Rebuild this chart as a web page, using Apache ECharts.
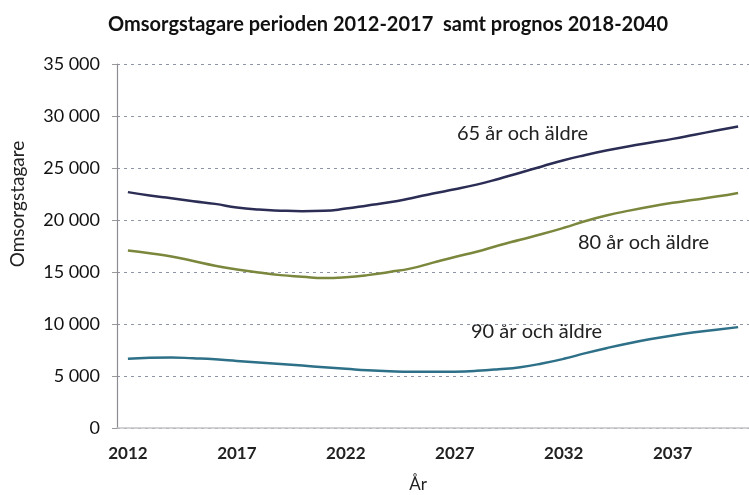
<!DOCTYPE html>
<html>
<head>
<meta charset="utf-8">
<script src="https://cdn.jsdelivr.net/npm/echarts@6/dist/echarts.min.js"></script>
<style>
    html, body {margin: 0; padding: 0; background: #fff;}
    #chart {width: 749px; height: 495px;}
</style>
</head>
<body>
<div id="chart"></div>
<script>
// År 2012-2040
let years = ['2012', '2013', '2014', '2015', '2016', '2017', '2018', '2019', '2020', '2021',
    '2022', '2023', '2024', '2025', '2026', '2027', '2028', '2029', '2030', '2031',
    '2032', '2033', '2034', '2035', '2036', '2037', '2038', '2039', '2040'];

let age65 = [22680, 22350, 22100, 21800, 21550, 21200, 21000, 20900, 20850, 20880,
    21100, 21400, 21700, 22100, 22550, 22950, 23400, 23950, 24550, 25150,
    25750, 26250, 26700, 27100, 27450, 27800, 28200, 28600, 29000];
let age80 = [17060, 16800, 16500, 16050, 15600, 15250, 14950, 14700, 14550, 14420,
    14500, 14700, 15000, 15350, 15900, 16450, 16950, 17550, 18100, 18650,
    19250, 19900, 20450, 20900, 21300, 21650, 21950, 22250, 22600];
let age90 = [6650, 6750, 6780, 6700, 6600, 6450, 6300, 6150, 6000, 5850,
    5700, 5550, 5450, 5400, 5400, 5420, 5500, 5650, 5850, 6200,
    6650, 7200, 7700, 8150, 8550, 8900, 9200, 9450, 9700];

let seriesNames = ['65 år och äldre', '80 år och äldre', '90 år och äldre'];
let colors = ['#2b2d55', '#7a873c', '#2d7088'];

let font = 'Lato, "Open Sans", sans-serif';

let chart = echarts.init(document.getElementById('chart'), null, {renderer: 'canvas'});

function line(name, data, color) {
    return {
        name: name, type: 'line', data: data, smooth: true,
        symbol: 'none', lineStyle: {color: color, width: 2.5}
    };
}

chart.setOption({
    animation: false,
    title: {
        text: 'Omsorgstagare perioden 2012-2017  samt prognos 2018-2040',
        left: 383, top: 10, textAlign: 'center',
        textStyle: {fontFamily: font, fontSize: 20, fontWeight: 'bold', color: '#111'}
    },
    grid: {left: 117, top: 64, right: -3, bottom: 67},
    xAxis: {
        type: 'category', data: years, boundaryGap: true,
        axisLine: {lineStyle: {color: '#c4c4c8', width: 1.5}},
        axisTick: {interval: 4, length: 4, lineStyle: {color: '#999'}},
        axisLabel: {
            interval: 4, margin: 17,
            fontFamily: font, fontSize: 17, fontWeight: 'bold', color: '#222'
        },
        splitLine: {show: false}
    },
    yAxis: {
        type: 'value', min: 0, max: 35000, interval: 5000,
        axisLine: {show: true, lineStyle: {color: '#8c8c92', width: 1.2}},
        axisTick: {show: true, length: 5, lineStyle: {color: '#999'}},
        axisLabel: {
            margin: 17, fontFamily: font, fontSize: 18, color: '#111',
            formatter: function (v) {
                return v >= 1000 ? Math.floor(v / 1000) + ' ' + String(v % 1000).padStart(3, '0') : String(v);
            }
        },
        splitLine: {lineStyle: {color: '#8e93a6', type: [3, 4], width: 1.2}}
    },
    series: [
        line(seriesNames[0], age65, colors[0]),
        line(seriesNames[1], age80, colors[1]),
        line(seriesNames[2], age90, colors[2])
    ],
    graphic: [
        {type: 'text', left: 457, top: 124, style: {text: seriesNames[0], font: '20px ' + font, fill: '#222'}},
        {type: 'text', left: 578, top: 233, style: {text: seriesNames[1], font: '20px ' + font, fill: '#222'}},
        {type: 'text', left: 471, top: 322, style: {text: seriesNames[2], font: '20px ' + font, fill: '#222'}},
        {
            type: 'text', x: 18, y: 204, rotation: Math.PI / 2,
            style: {text: 'Omsorgstagare', font: '19px ' + font, fill: '#222', align: 'center', verticalAlign: 'middle'}
        },
        {
            type: 'text', x: 418, y: 485,
            style: {text: 'År', font: '17px ' + font, fill: '#222', align: 'center', verticalAlign: 'middle'}
        }
    ]
});
</script>
</body>
</html>
